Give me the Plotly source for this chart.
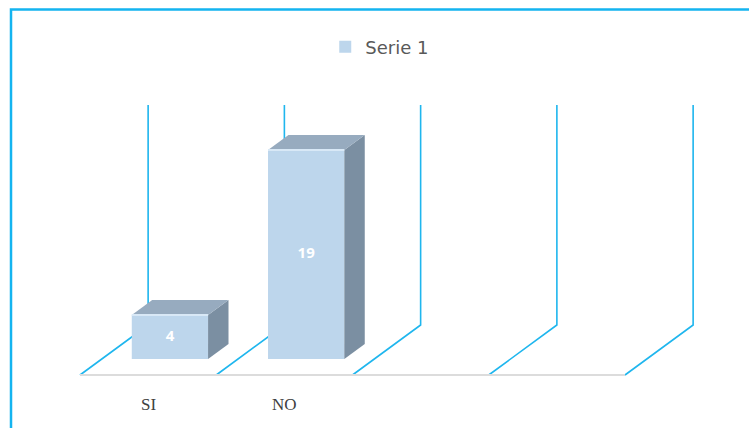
import plotly.graph_objects as go

# ---- data ----
categories = ["SI", "NO", "", ""]
values = [4, 19, None, None]
series_name = "Serie 1"
axis_max = 20

# ---- projection / style settings ----
DX = 0.5          # horizontal shift of back wall (category units)
DY = 50 / 11      # vertical shift of back wall (value units)
D0, D1 = 0.32, 0.62  # bar depth range
HW = 0.28         # bar half width
FRONT = "#bdd6ec"
TOP = "#97abbf"
SIDE = "#7b8fa2"
GRID = "#1fb6ee"

fig = go.Figure()
n = len(categories)

# floor diagonals and back wall verticals (drawn beneath the bars)
for k in range(n + 1):
    fig.add_shape(type="path", xref="x", yref="y", layer="below",
                  path=f"M {k},0 L {k + DX},{DY} L {k + DX},{DY + axis_max}",
                  line=dict(color=GRID, width=1.6))
# front floor edge
fig.add_shape(type="line", xref="x", yref="y", layer="below",
              x0=0, x1=n, y0=0, y1=0, line=dict(color="#dcdcdc", width=2))

first = True
for i, (c, v) in enumerate(zip(categories, values)):
    if v is None:
        continue
    cx0 = i + 0.5 + DX * D0
    cx1 = i + 0.5 + DX * D1
    y0 = DY * D0
    y1 = DY * D1
    # front face as a real bar
    fig.add_trace(go.Bar(x=[cx0], y=[v], base=[y0], width=[2 * HW],
                         marker=dict(color=FRONT, line=dict(width=0)),
                         name=series_name, legendgroup="s1", showlegend=first,
                         hoverinfo="skip"))
    first = False
    # side
    fig.add_trace(go.Scatter(x=[cx0 + HW, cx1 + HW, cx1 + HW, cx0 + HW, cx0 + HW],
                             y=[y0, y1, y1 + v, y0 + v, y0], fill="toself",
                             fillcolor=SIDE, mode="lines", line=dict(width=0, color=SIDE),
                             hoverinfo="skip", showlegend=False))
    # top
    fig.add_trace(go.Scatter(x=[cx0 - HW, cx0 + HW, cx1 + HW, cx1 - HW, cx0 - HW],
                             y=[y0 + v, y0 + v, y1 + v, y1 + v, y0 + v], fill="toself",
                             fillcolor=TOP, mode="lines", line=dict(width=0, color=TOP),
                             hoverinfo="skip", showlegend=False))
    # highlight on top edge of front face
    fig.add_trace(go.Scatter(x=[cx0 - HW, cx0 + HW], y=[y0 + v, y0 + v], mode="lines",
                             line=dict(color="#d8e8f6", width=2),
                             hoverinfo="skip", showlegend=False))
    # value label
    fig.add_trace(go.Scatter(x=[cx0], y=[y0 + v / 2], mode="text", text=[str(v)],
                             textfont=dict(color="white", size=15, family="Open Sans"),
                             texttemplate="<b>%{text}</b>",
                             hoverinfo="skip", showlegend=False))

# category labels
for i, c in enumerate(categories):
    if c:
        fig.add_annotation(x=i + 0.5, y=-2.64, text=c, showarrow=False,
                           font=dict(family="Liberation Serif", size=17, color="#404040"),
                           xref="x", yref="y")

# chart border
fig.add_shape(type="rect", xref="paper", yref="paper", x0=11 / 749, x1=1.02,
              y0=-0.02, y1=1 - 9.5 / 428, line=dict(color="#14b4f0", width=2.5),
              fillcolor="rgba(0,0,0,0)", layer="above")

fig.update_layout(
    width=749, height=428,
    margin=dict(l=0, r=0, t=0, b=0),
    plot_bgcolor="white", paper_bgcolor="white",
    barmode="overlay",
    xaxis=dict(range=[-80 / 136.25, (749 - 80) / 136.25], visible=False, fixedrange=True),
    yaxis=dict(range=[-53 / 11, 375 / 11], visible=False, fixedrange=True),
    showlegend=True,
    legend=dict(orientation="h", x=0.507, xanchor="center", y=1 - 47 / 428, yanchor="middle",
                font=dict(family="DejaVu Sans", size=18, color="#595959"),
                bgcolor="rgba(0,0,0,0)", itemwidth=30),
)

fig.write_html("out.html", config={"displayModeBar": False},
               post_script="document.body.style.margin='0';document.body.style.overflow='hidden';")
